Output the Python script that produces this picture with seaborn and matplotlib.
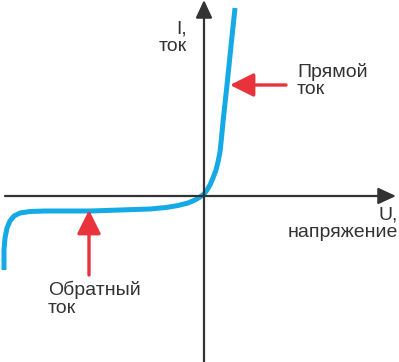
import matplotlib
matplotlib.use("Agg")
import matplotlib.pyplot as plt
import seaborn as sns

# diode I-V curve (arbitrary units)
u_volt = [-200, -200, -199, -197, -194, -190, -184, -174, -159, -114, -84, -54,
          -38, -26, -16, -9, -4, 0, 3, 6, 9, 12, 14, 16, 17.5, 19, 23, 27, 31]
i_curr = [-74, -54, -42, -32, -25, -20, -17, -15.5, -15, -15, -14, -13,
          -11.5, -9.5, -7, -4, -1, 2, 6, 11, 18, 26, 34, 44, 58, 74, 111, 150, 188]

blue = "#14aae6"
red = "#e8323c"
dark = "#333333"

sns.set_theme(style="white")
plt.rcParams["font.family"] = ["Liberation Sans", "DejaVu Sans"]

fig = plt.figure(figsize=(3.99, 3.62), dpi=100)
ax = fig.add_axes([0, 0, 1, 1])
ax.set_xlim(-204, 195)
ax.set_ylim(-166, 196)
ax.axis("off")

# axes with arrows
axis_style = "-|>,head_length=0.54,head_width=0.25"
ax.annotate("", xy=(192, 0), xytext=(-199, 0),
            arrowprops=dict(arrowstyle=axis_style, mutation_scale=20, lw=1.6,
                            color=dark, shrinkA=0, shrinkB=0))
ax.annotate("", xy=(0, 196), xytext=(0, -166),
            arrowprops=dict(arrowstyle=axis_style, mutation_scale=20, lw=1.6,
                            color=dark, shrinkA=0, shrinkB=0))

sns.lineplot(x=u_volt, y=i_curr, sort=False, estimator=None, color=blue,
             linewidth=3.6, ax=ax, solid_capstyle="butt",
             solid_joinstyle="round")

# red pointers
red_style = "-|>,head_length=0.72,head_width=0.36"
ax.annotate("", xy=(26, 111), xytext=(82, 111),
            arrowprops=dict(arrowstyle=red_style, mutation_scale=20, lw=2.4,
                            color=red, shrinkA=0, shrinkB=0))
ax.annotate("", xy=(-115, -14), xytext=(-115, -79),
            arrowprops=dict(arrowstyle=red_style, mutation_scale=20, lw=2.4,
                            color=red, shrinkA=0, shrinkB=0))

fs = 14
ax.text(-17, 175, "I,\nток", ha="right", va="top", fontsize=fs, color=dark,
        linespacing=1.02, multialignment="right")
ax.text(93, 133, "Прямой\nток", ha="left", va="top", fontsize=fs, color=dark,
        linespacing=1.02)
ax.text(194, -11, "U,\nнапряжение", ha="right", va="top", fontsize=fs,
        color=dark, linespacing=1.02, multialignment="right")
ax.text(-156, -85, "Обратный\nток", ha="left", va="top", fontsize=fs,
        color=dark, linespacing=1.02)

fig.savefig("out.png", dpi=100)
